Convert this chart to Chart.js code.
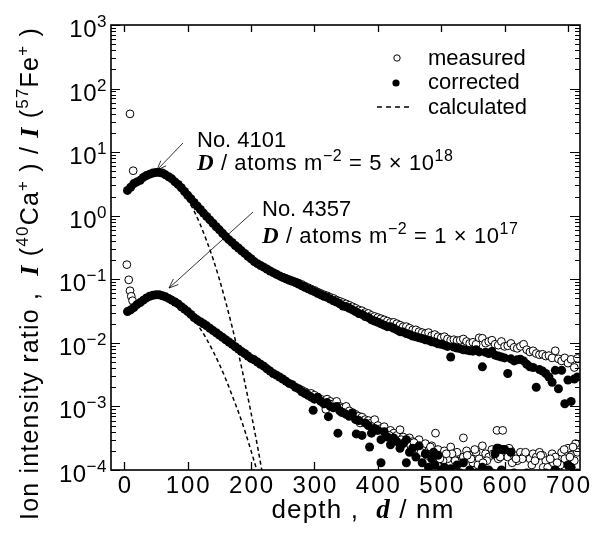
<!DOCTYPE html>
<html>
<head>
<meta charset="utf-8">
<script src="https://cdn.jsdelivr.net/npm/chart.js@4/dist/chart.umd.min.js"></script>
<style>
  html, body { margin: 0; padding: 0; background: #fff; }
  canvas { display: block; }
</style>
</head>
<body>
<canvas id="chart" width="595" height="540"></canvas>
<script>
// depth grid (nm) used by the corrected profiles
const depthGrid = [
  5, 10, 15, 20, 25, 30, 35, 40, 45, 50, 55, 60, 65, 70, 75, 80, 85, 90, 95, 100,
  105, 110, 115, 120, 125, 130, 135, 140, 145, 150, 155, 160, 165, 170, 175, 180, 185, 190, 195, 200,
  205, 210, 215, 220, 225, 230, 235, 240, 245, 250, 255, 260, 265, 270, 275, 280, 285, 290, 295, 300,
  305, 310, 315, 320, 325, 330, 335, 340, 345, 350, 355, 360, 365, 370, 375, 380, 385, 390, 395, 400,
  405, 410, 415, 420, 425, 430, 435, 440, 445, 450, 455, 460, 465, 470, 475, 480, 485, 490, 495, 500,
  505, 510, 515, 520, 525, 530, 535, 540, 545, 550, 555, 560, 565, 570, 575, 580, 585, 590, 595, 600,
  605, 610, 615, 620, 625, 630, 635, 640, 645, 650, 655, 660, 665, 670, 675, 680, 685, 690, 695, 700,
  705, 710, 715
];

// No. 4101, corrected
const corr4101 = [
  2.5, 2.8, 3.2, 3.4, 3.6, 4.0, 4.3, 4.5, 4.7, 4.8, 4.8, 4.7, 4.4, 4.1, 3.8, 3.4, 3.1, 2.75, 2.4, 2.1,
  1.85, 1.62, 1.42, 1.25, 1.1, 0.97, 0.86, 0.76, 0.67, 0.6, 0.53, 0.47, 0.42, 0.38, 0.34, 0.31, 0.28, 0.255, 0.23, 0.21,
  0.19, 0.176, 0.165, 0.155, 0.145, 0.135, 0.127, 0.12, 0.113, 0.107, 0.102, 0.097, 0.093, 0.089, 0.084, 0.079, 0.075, 0.071, 0.067, 0.064,
  0.06, 0.057, 0.054, 0.052, 0.049, 0.046, 0.044, 0.041, 0.038, 0.037, 0.035, 0.033, 0.031, 0.029, 0.028, 0.026, 0.025, 0.023, 0.022, 0.021,
  0.02, 0.019, 0.018, 0.018, 0.017, 0.016, 0.015, 0.0148, 0.014, 0.0135, 0.0128, 0.0125, 0.012, 0.0117, 0.0112, 0.011, 0.0104, 0.0102, 0.0097, 0.0095,
  0.0092, 0.0088, 0.006, 0.0086, 0.0083, 0.0081, 0.0078, 0.0077, 0.0075, 0.0074, 0.0078, 0.0072, 0.0042, 0.0071, 0.0068, 0.0073, 0.0064, 0.0062, 0.006, 0.0058,
  0.0033, 0.0056, 0.0052, 0.0054, 0.0055, 0.0052, 0.0046, 0.0042, 0.0041, 0.002, 0.0038, 0.0036, 0.0033, 0.0029, 0.0024, 0.0037, 0.0019, 0.0037, 0.0011, 0.0026,
  0.0012, 0.0027, 0.0029
];

// No. 4357, corrected
const corr4357 = [
  0.031, 0.033, 0.036, 0.040, 0.043, 0.047, 0.051, 0.054, 0.056, 0.057, 0.057, 0.055, 0.053, 0.050, 0.047, 0.044, 0.041, 0.037, 0.034, 0.031,
  0.028, 0.025, 0.023, 0.0215, 0.02, 0.0185, 0.017, 0.0156, 0.0144, 0.0132, 0.0122, 0.0112, 0.0103, 0.0095, 0.0087, 0.008, 0.0073, 0.0068, 0.0062, 0.0057,
  0.0054, 0.005, 0.0046, 0.0043, 0.0039, 0.0036, 0.0033, 0.0031, 0.0029, 0.0027, 0.0025, 0.0023, 0.0022, 0.002, 0.0019, 0.0017, 0.0016, 0.0015, 0.0014, 0.0013,
  0.0014, 0.0012, 0.0011, 0.00115, 0.001, 0.00095, 0.001, 0.00085, 0.0008, 0.00075, 0.0007, 0.00078, 0.00062, 0.0006, 0.00035, 0.00055, 0.0005, 0.00038, 0.00045, 0.00042,
  0.0003, 0.0004, 0.00033, 0.00025, 0.00032, 0.00028, 0.00022, 0.00026, 0.0003, 0.00019, 0.00022, 0.00016, 0.00024, 0.00013, 0.00018, 0.00011, 0.00015, 0.00012, 0.00017, 0.0001,
  0.00011, 0.00009, 0.000105, 0.00008, 0.00012, 0.00009, 0.00013, 0.00008, 0.0001, 0.00007, 0.00009, 0.00008, 0.00011, 0.00007, 0.0001, 0.00009, 0.00018, 0.00022, 0.0001, 0.00021,
  0.00008, 0.00019, 0.00009, 0.00007, 0.00008, 0.00006, 0.00009, 0.00007, 0.00008, 0.00006, 0.00008, 0.00007, 0.00009, 0.00006, 0.00008, 0.0001, 0.00007, 0.00006, 0.00008, 0.00012,
  0.00011, 0.00007, 0.00009
];
// scattered extra corrected points of No. 4357
const extraDepth4357c = [298, 322, 337, 366, 387, 405, 445, 488, 588, 596];
const extraCorr4357 = [0.00087, 0.00069, 0.00038, 0.00037, 0.00023, 0.00013, 0.00013, 0.00019, 0.00022, 0.00021];

// No. 4101, measured
const depthMeas4101 = [
  9, 14,
  250, 255, 260, 265, 270, 275, 280, 285, 290, 295,
  300, 305, 310, 315, 320, 325, 330, 335, 340, 345,
  350, 355, 360, 365, 370, 375, 380, 385, 390, 395,
  400, 405, 410, 415, 420, 425, 430, 435, 440, 445,
  450, 455, 460, 465, 470, 475, 480, 485, 490, 495,
  500, 505, 510, 515, 520, 525, 530, 535, 540, 545,
  550, 555, 560, 565, 570, 575, 580, 585, 590, 595,
  600, 605, 610, 615, 620, 625, 630, 635, 640, 645,
  650, 655, 660, 665, 670, 675, 680, 685, 690, 695,
  700, 705, 710, 715
];
const meas4101 = [
  40, 5.1,
  0.108, 0.103, 0.099, 0.095, 0.091, 0.087, 0.083, 0.078, 0.074, 0.070,
  0.067, 0.063, 0.060, 0.057, 0.055, 0.052, 0.050, 0.047, 0.045, 0.043,
  0.041, 0.039, 0.037, 0.035, 0.033, 0.032, 0.030, 0.029, 0.027, 0.026,
  0.025, 0.024, 0.023, 0.022, 0.021, 0.021, 0.020, 0.019, 0.018, 0.018,
  0.017, 0.016, 0.016, 0.015, 0.0145, 0.014, 0.0145, 0.013, 0.0135, 0.0125,
  0.012, 0.0125, 0.0115, 0.011, 0.0112, 0.0108, 0.011, 0.0115, 0.0105, 0.0098,
  0.0102, 0.0095, 0.012, 0.0118, 0.0099, 0.0105, 0.011, 0.0095, 0.0092, 0.0105,
  0.0088, 0.009, 0.0098, 0.0085, 0.0082, 0.0088, 0.0095, 0.0078, 0.0072, 0.0075,
  0.0068, 0.0065, 0.0066, 0.0062, 0.0063, 0.0058, 0.0075, 0.0056, 0.0052, 0.0058,
  0.0048, 0.0055, 0.0041, 0.0057
];

// No. 4357, measured
const depthMeas4357 = [
  4, 7, 9, 11, 13,
  280, 285, 290, 295, 300, 305, 310, 315, 320, 325,
  330, 335, 340, 345, 350, 355, 360, 365, 370, 375,
  380, 385, 390, 395, 400, 405, 410, 415, 420, 425,
  430, 435, 440, 445, 450, 455, 460, 465, 470, 475,
  480, 485, 490, 495, 500, 505, 510, 515, 520, 525,
  530, 535, 540, 545, 550, 555, 560, 565, 570, 575,
  580, 585, 590, 595, 600, 605, 610, 615, 620, 625,
  630, 635, 640, 645, 650, 655, 660, 665, 670, 675,
  680, 685, 690, 695, 700, 705, 710, 715,
  318, 343, 372, 396, 418, 437, 452, 463, 478, 491, 503, 517, 528, 535,
  547, 558, 572, 588, 597, 612, 628, 643, 661, 668, 677, 688, 703, 712,
  457, 468, 483, 498, 508, 522, 541, 553, 566, 582, 593, 607, 618, 633,
  648, 657, 672, 683, 694, 708
];
const meas4357 = [
  0.17, 0.098, 0.066, 0.054, 0.046,
  0.0018, 0.0017, 0.0016, 0.0016, 0.0015, 0.0014, 0.0013, 0.0012, 0.0013, 0.0012,
  0.0011, 0.0012, 0.001, 0.00095, 0.001, 0.00085, 0.0008, 0.00075, 0.0007, 0.00068,
  0.00062, 0.0006, 0.00055, 0.00062, 0.0005, 0.00045, 0.00048, 0.0004, 0.00042, 0.00038,
  0.00035, 0.00043, 0.00033, 0.0003, 0.00032, 0.00028, 0.00025, 0.0003, 0.00022, 0.00026,
  0.0002, 0.00024, 0.00018, 0.00021, 0.00016, 0.0002, 0.00015, 0.00023, 0.00017, 0.00019,
  0.00014, 0.00016, 0.0002, 0.00017, 0.00013, 0.00019, 0.00015, 0.00024, 0.00018, 0.00016,
  0.00021, 0.00017, 0.00015, 0.00019, 0.00017, 0.00016, 0.0002, 0.00017, 0.00014, 0.00019,
  0.00016, 0.00017, 0.00015, 0.00018, 0.00016, 0.00019, 0.00017, 0.00014, 0.00011, 0.00018,
  0.00016, 0.00011, 0.00019, 0.00015, 0.00022, 0.00017, 0.00014, 0.00019,
  0.0009, 0.0008, 0.00055, 0.00042, 0.00035, 0.0003, 0.00024, 0.00021, 0.00017, 0.00038, 0.00014, 0.00018, 0.00013, 0.00032,
  0.00015, 0.00012, 0.00014, 0.00042, 0.00042, 0.00013, 0.00015, 0.00012, 0.00011, 0.00011, 0.00013, 0.00012, 0.00016, 0.00026,
  0.00027, 0.00019, 0.00023, 0.00015, 0.00018, 0.00014, 0.00017, 0.00021, 0.00013, 0.00018, 0.00016, 0.00022, 0.00015, 0.00019,
  0.00014, 0.00017, 0.00015, 0.00013, 0.00021, 0.00023
];

// calculated profiles
const calcDepth = [40, 50, 60, 70, 80, 90, 100, 110, 120, 130, 140, 150, 160, 170, 180, 190, 200, 210, 220];
const calc4101 = [4.6, 4.8, 4.6, 4.1, 3.4, 2.6, 1.8, 1.19, 0.72, 0.40, 0.21, 0.10, 0.044, 0.018, 0.0069, 0.0024, 0.00079, 0.00024, 0.000067];
const calc4357 = [0.055, 0.057, 0.055, 0.051, 0.045, 0.038, 0.030, 0.023, 0.0166, 0.0114, 0.0074, 0.0046, 0.0027, 0.0015, 0.00082, 0.00042, 0.0002, 0.000092, 0.00004];

// axis ticks
const xTickValues = [0, 100, 200, 300, 400, 500, 600, 700];
const yTickExponents = [-4, -3, -2, -1, 0, 1, 2, 3];

const SANS = '"Liberation Sans", Arial, Helvetica, sans-serif';
const SERIF = '"Liberation Serif", "Times New Roman", serif';

function pts(xs, ys) {
  return xs.map((x, i) => ({ x: x, y: ys[i] }));
}

function partsWidth(ctx, parts, spacing) {
  ctx.save();
  ctx.letterSpacing = (spacing || 0) + 'px';
  let w = 0;
  for (const p of parts) {
    ctx.font = p.font;
    w += ctx.measureText(p.text).width;
  }
  ctx.restore();
  return w;
}

function drawParts(ctx, parts, x, y, spacing) {
  ctx.save();
  ctx.letterSpacing = (spacing || 0) + 'px';
  ctx.textAlign = 'left';
  ctx.textBaseline = 'alphabetic';
  ctx.fillStyle = '#000';
  let cx = x;
  for (const p of parts) {
    ctx.font = p.font;
    ctx.fillText(p.text, cx, y + (p.dy || 0));
    cx += ctx.measureText(p.text).width;
  }
  ctx.restore();
  return cx - x;
}

function arrow(ctx, x1, y1, x2, y2) {
  const a = Math.atan2(y2 - y1, x2 - x1);
  const len = 10, spread = 0.38;
  ctx.beginPath();
  ctx.moveTo(x1, y1);
  ctx.lineTo(x2, y2);
  ctx.moveTo(x2 - len * Math.cos(a - spread), y2 - len * Math.sin(a - spread));
  ctx.lineTo(x2, y2);
  ctx.lineTo(x2 - len * Math.cos(a + spread), y2 - len * Math.sin(a + spread));
  ctx.stroke();
}

const framePlugin = {
  id: 'frame',
  afterDraw(chart) {
    const ctx = chart.ctx;
    const area = chart.chartArea;
    const xs = chart.scales.x;
    const ys = chart.scales.y;
    ctx.save();
    ctx.strokeStyle = '#000';
    ctx.fillStyle = '#000';

    // frame
    ctx.lineWidth = 1.6;
    ctx.strokeRect(area.left, area.top, area.right - area.left, area.bottom - area.top);

    // x ticks (inward, bottom and top)
    ctx.lineWidth = 1.3;
    ctx.beginPath();
    xTickValues.forEach(v => {
      const px = Math.round(xs.getPixelForValue(v)) + 0.5;
      ctx.moveTo(px, area.bottom); ctx.lineTo(px, area.bottom - 8);
      ctx.moveTo(px, area.top); ctx.lineTo(px, area.top + 7);
    });
    ctx.stroke();

    // y ticks, major and minor (inward, left and right)
    ctx.lineWidth = 1;
    ctx.beginPath();
    yTickExponents.forEach(e => {
      const py = Math.round(ys.getPixelForValue(Math.pow(10, e))) + 0.5;
      ctx.moveTo(area.left, py); ctx.lineTo(area.left + 9, py);
      ctx.moveTo(area.right, py); ctx.lineTo(area.right - 10, py);
      if (e < 3) {
        for (let m = 2; m <= 9; m++) {
          const my = Math.round(ys.getPixelForValue(m * Math.pow(10, e))) + 0.5;
          ctx.moveTo(area.left, my); ctx.lineTo(area.left + 5, my);
          ctx.moveTo(area.right, my); ctx.lineTo(area.right - 5, my);
        }
      }
    });
    ctx.stroke();

    // x tick labels
    const xFont = '24px ' + SANS;
    xTickValues.forEach(v => {
      const parts = [{ text: String(v), font: xFont }];
      const w = partsWidth(ctx, parts, 2) - 2;
      drawParts(ctx, parts, xs.getPixelForValue(v) - w / 2, 493, 2);
    });

    // y tick labels 10^n
    yTickExponents.forEach(e => {
      const exp = e < 0 ? '\u2212' + Math.abs(e) : String(e);
      const parts = [
        { text: '10', font: '24px ' + SANS },
        { text: exp, font: '17px ' + SANS, dy: -10 }
      ];
      const w = partsWidth(ctx, parts, 0.5);
      drawParts(ctx, parts, 107 - w, ys.getPixelForValue(Math.pow(10, e)) + 12, 0.5);
    });

    // x axis title
    const xt = [
      { text: 'depth ,  ', font: '26px ' + SANS },
      { text: 'd', font: 'bold italic 27px ' + SERIF },
      { text: ' / nm', font: '26px ' + SANS }
    ];
    const xtw = partsWidth(ctx, xt, 1.2);
    drawParts(ctx, xt, 363 - xtw / 2, 518, 1.2);

    // y axis title (rotated)
    const sans25 = '25px ' + SANS;
    const sup = '17px ' + SANS;
    const ib = 'bold italic 26px ' + SERIF;
    const yt = [
      { text: 'Ion intensity ratio ,  ', font: sans25 },
      { text: 'I', font: ib },
      { text: ' (', font: sans25 },
      { text: '40', font: sup, dy: -10 },
      { text: 'Ca', font: sans25 },
      { text: '+', font: sup, dy: -10 },
      { text: ' ) / ', font: sans25 },
      { text: 'I', font: ib },
      { text: ' (', font: sans25 },
      { text: '57', font: sup, dy: -10 },
      { text: 'Fe', font: sans25 },
      { text: '+', font: sup, dy: -10 },
      { text: ' )', font: sans25 }
    ];
    ctx.save();
    ctx.translate(38, 520);
    ctx.rotate(-Math.PI / 2);
    drawParts(ctx, yt, 0, 0, 1.2);
    ctx.restore();

    // legend
    ctx.lineWidth = 1;
    ctx.beginPath();
    ctx.arc(397, 58, 3.2, 0, Math.PI * 2);
    ctx.stroke();
    ctx.beginPath();
    ctx.arc(396, 83, 3.6, 0, Math.PI * 2);
    ctx.fill();
    ctx.save();
    ctx.lineWidth = 1.5;
    ctx.setLineDash([5, 4]);
    ctx.beginPath();
    ctx.moveTo(377, 107); ctx.lineTo(413, 107);
    ctx.stroke();
    ctx.restore();
    const lf = '22px ' + SANS;
    drawParts(ctx, [{ text: 'measured', font: lf }], 428, 65);
    drawParts(ctx, [{ text: 'corrected', font: lf }], 428, 89);
    drawParts(ctx, [{ text: 'calculated', font: lf }], 428, 114);

    // annotations
    const af = '22px ' + SANS;
    const asup = '16px ' + SANS;
    const dFont = 'bold italic 23px ' + SERIF;
    drawParts(ctx, [{ text: 'No. 4101', font: af }], 197, 147);
    drawParts(ctx, [
      { text: 'D', font: dFont },
      { text: ' / atoms m', font: af },
      { text: '\u22122', font: asup, dy: -9 },
      { text: ' = 5 \u00d7 10', font: af },
      { text: '18', font: asup, dy: -9 }
    ], 197, 170, 0.6);
    drawParts(ctx, [{ text: 'No. 4357', font: af }], 262, 216);
    drawParts(ctx, [
      { text: 'D', font: dFont },
      { text: ' / atoms m', font: af },
      { text: '\u22122', font: asup, dy: -9 },
      { text: ' = 1 \u00d7 10', font: af },
      { text: '17', font: asup, dy: -9 }
    ], 262, 243, 0.6);

    ctx.lineWidth = 0.8;
    arrow(ctx, 183, 143, 157, 170);
    arrow(ctx, 253, 212, 169, 288);

    ctx.restore();
  }
};

const calcStyle = {
  type: 'line',
  showLine: true,
  borderColor: '#000',
  borderWidth: 1.5,
  borderDash: [4, 3],
  pointRadius: 0,
  fill: false,
  cubicInterpolationMode: 'monotone',
  clip: 0
};
const filledStyle = {
  pointRadius: 4.5,
  pointBorderWidth: 0,
  pointBackgroundColor: '#000',
  pointBorderColor: '#000',
  clip: 0
};
const openStyle = {
  pointRadius: 3.9,
  pointBorderWidth: 1,
  pointBackgroundColor: '#fff',
  pointBorderColor: '#000',
  clip: 0
};

new Chart(document.getElementById('chart').getContext('2d'), {
  type: 'scatter',
  data: {
    datasets: [
      Object.assign({ label: 'calculated 4101', data: pts(calcDepth, calc4101) }, calcStyle),
      Object.assign({ label: 'calculated 4357', data: pts(calcDepth, calc4357) }, calcStyle),
      Object.assign({ label: 'corrected 4101', data: pts(depthGrid, corr4101) }, filledStyle),
      Object.assign({ label: 'corrected 4357', data: pts(depthGrid.concat(extraDepth4357c), corr4357.concat(extraCorr4357)) }, filledStyle),
      Object.assign({ label: 'measured 4101', data: pts(depthMeas4101, meas4101) }, openStyle),
      Object.assign({ label: 'measured 4357', data: pts(depthMeas4357, meas4357) }, openStyle)
    ]
  },
  options: {
    responsive: false,
    animation: false,
    layout: { padding: { left: 111, right: 15, top: 25, bottom: 70 } },
    plugins: {
      legend: { display: false },
      tooltip: { enabled: false }
    },
    scales: {
      x: { type: 'linear', min: -21, max: 719, display: false },
      y: { type: 'logarithmic', min: 1e-4, max: 1e3, display: false }
    }
  },
  plugins: [framePlugin]
});
</script>
</body>
</html>
